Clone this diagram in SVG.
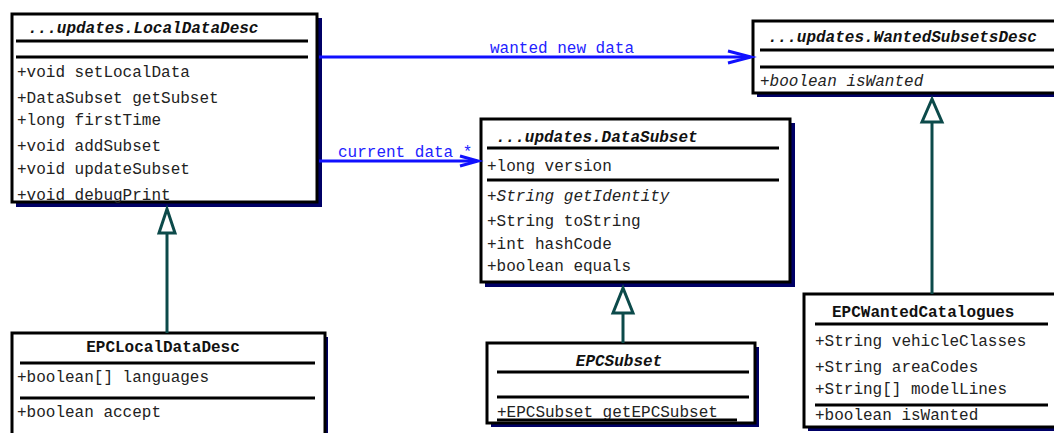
<svg xmlns="http://www.w3.org/2000/svg" width="1054" height="433" viewBox="0 0 1054 433">
<style>
.shadow{fill:#000066}
.box{fill:#ffffff;stroke:#000000;stroke-width:3}
.sep{stroke:#000000;stroke-width:3}
text{font-family:"Liberation Mono","Courier New",monospace;font-size:16px;fill:#222222}
.title{font-weight:bold;font-style:italic;fill:#111111}
.ctitle{font-weight:bold;fill:#111111}
.it{font-style:italic}
.lbl{fill:#2222ff}
.assoc{stroke:#1010ff;stroke-width:3;fill:none}
.gen{stroke:#0c4a4a;stroke-width:3;fill:none}
.tri{stroke:#0c4a4a;stroke-width:3;fill:#ffffff;stroke-linejoin:miter}
</style>
<rect width="1054" height="433" fill="#ffffff"/>

<g id="LocalDataDesc">
<rect class="shadow" x="16" y="18" width="306" height="189"/>
<rect class="box" x="12" y="14" width="305" height="188"/>
<text class="title" x="28" y="33">...updates.LocalDataDesc</text>
<line class="sep" x1="16" y1="41" x2="308" y2="41"/>
<line class="sep" x1="16" y1="57" x2="308" y2="57"/>
<text x="17" y="77">+void setLocalData</text>
<text x="17" y="103">+DataSubset getSubset</text>
<text x="17" y="125">+long firstTime</text>
<text x="17" y="151">+void addSubset</text>
<text x="17" y="174">+void updateSubset</text>
<text x="17" y="200">+void debugPrint</text>
</g>

<g id="WantedSubsetsDesc">
<rect class="shadow" x="757" y="25" width="300" height="72"/>
<rect class="box" x="753" y="21" width="303" height="72"/>
<text class="title" x="768" y="42">...updates.WantedSubsetsDesc</text>
<line class="sep" x1="760" y1="50" x2="1054" y2="50"/>
<line class="sep" x1="760" y1="67" x2="1054" y2="67"/>
<text class="it" x="760" y="86">+boolean isWanted</text>
</g>

<g id="DataSubset">
<rect class="shadow" x="485" y="123" width="310" height="164"/>
<rect class="box" x="481" y="119" width="309" height="163"/>
<text class="title" x="496" y="142">...updates.DataSubset</text>
<line class="sep" x1="487" y1="148" x2="779" y2="148"/>
<text x="487" y="171">+long version</text>
<line class="sep" x1="487" y1="180" x2="779" y2="180"/>
<text class="it" x="487" y="201">+String getIdentity</text>
<text x="487" y="226">+String toString</text>
<text x="487" y="249">+int hashCode</text>
<text x="487" y="271">+boolean equals</text>
</g>

<g id="EPCLocalDataDesc">
<rect class="shadow" x="16" y="337" width="312" height="100"/>
<rect class="box" x="12" y="333" width="313" height="104"/>
<text class="ctitle" x="163" y="352" text-anchor="middle">EPCLocalDataDesc</text>
<line class="sep" x1="20" y1="363" x2="315" y2="363"/>
<text x="17" y="382">+boolean[] languages</text>
<line class="sep" x1="20" y1="398" x2="315" y2="398"/>
<text x="17" y="417">+boolean accept</text>
</g>

<g id="EPCSubset">
<rect class="shadow" x="491" y="347" width="268" height="80"/>
<rect class="box" x="487" y="343" width="268" height="80"/>
<text class="title" x="619" y="366" text-anchor="middle">EPCSubset</text>
<line class="sep" x1="497" y1="372" x2="749" y2="372"/>
<line class="sep" x1="497" y1="397" x2="749" y2="397"/>
<text x="497" y="417">+EPCSubset getEPCSubset</text>
<line class="sep" x1="497" y1="420" x2="737" y2="420"/>
</g>

<g id="EPCWantedCatalogues">
<rect class="shadow" x="808" y="298" width="250" height="133"/>
<rect class="box" x="804" y="294" width="256" height="133"/>
<text class="ctitle" x="832" y="317">EPCWantedCatalogues</text>
<line class="sep" x1="815" y1="324" x2="1048" y2="324"/>
<text x="815" y="346">+String vehicleClasses</text>
<text x="815" y="372">+String areaCodes</text>
<text x="815" y="394">+String[] modelLines</text>
<line class="sep" x1="815" y1="405" x2="1048" y2="405"/>
<text x="815" y="420">+boolean isWanted</text>
</g>

<g id="connectors">
<line class="assoc" x1="319" y1="57" x2="750" y2="57"/>
<polyline class="assoc" points="728,51 751,57 728,63"/>
<text class="lbl" x="490" y="53">wanted new data</text>
<line class="assoc" x1="319" y1="161" x2="477" y2="161"/>
<polyline class="assoc" points="460,156 478,161 460,166"/>
<text class="lbl" x="338" y="157">current data *</text>
<line class="gen" x1="167" y1="233" x2="167" y2="333"/>
<polygon class="tri" points="167,209 159,233 175,233"/>
<line class="gen" x1="623" y1="313" x2="623" y2="343"/>
<polygon class="tri" points="623,288 613,313 633,313"/>
<line class="gen" x1="932" y1="122" x2="932" y2="294"/>
<polygon class="tri" points="932,99 922,122 942,122"/>
</g>
</svg>
